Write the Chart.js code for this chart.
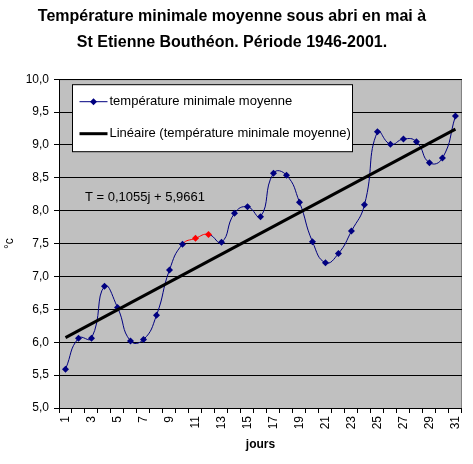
<!DOCTYPE html>
<html>
<head>
<meta charset="utf-8">
<script src="https://cdn.jsdelivr.net/npm/chart.js@4"></script>
<style>
  html, body { margin: 0; padding: 0; background: #fff; }
  #wrap { width: 473px; height: 464px; }
</style>
</head>
<body>
<div id="wrap"><canvas id="chart"></canvas></div>
<script>
// days of May
const days = ['1','2','3','4','5','6','7','8','9','10','11','12','13','14','15','16',
  '17','18','19','20','21','22','23','24','25','26','27','28','29','30','31'];
// mean minimum temperature per day (1946-2001)
const tempMin = [5.59, 6.06, 6.06, 6.85, 6.53, 6.02, 6.04, 6.41, 7.10, 7.49, 7.58,
  7.64, 7.52, 7.96, 8.06, 7.91, 8.57, 8.54, 8.13, 7.53, 7.21, 7.35, 7.69, 8.09,
  9.20, 9.01, 9.09, 9.05, 8.73, 8.80, 9.44];
// days highlighted in red
const redDays = ['11', '12'];
// linear trend end points (T = 0,1055j + 5,9661)
const trendStart = 6.07;
const trendEnd = 9.24;
const yTicks = [5, 10, 0.5]; // min, max, step

const NAVY = '#000080';
const RED = '#FF0000';
const FONT = "'Liberation Sans', Arial, sans-serif";

const trendData = days.map((d, i) => i === 0 ? trendStart : (i === days.length - 1 ? trendEnd : null));
const pointColors = days.map(d => redDays.includes(d) ? RED : NAVY);

const plotDecor = {
  id: 'plotDecor',
  beforeDraw(chart) {
    const { ctx, chartArea: a } = chart;
    ctx.save();
    ctx.fillStyle = '#C0C0C0';
    ctx.fillRect(a.left, a.top, a.right - a.left, a.bottom - a.top);
    ctx.strokeStyle = '#808080';
    ctx.lineWidth = 1;
    ctx.beginPath();
    ctx.moveTo(a.left, a.top + 0.5);
    ctx.lineTo(a.right - 0.5, a.top + 0.5);
    ctx.lineTo(a.right - 0.5, a.bottom);
    ctx.stroke();
    ctx.restore();
  },
  afterDraw(chart) {
    const { ctx, chartArea: a } = chart;
    const y = chart.scales.y;
    ctx.save();
    // legend box
    const lx = a.left + 13.5, ly = a.top + 5.5, lw = 280, lh = 67;
    ctx.fillStyle = '#fff';
    ctx.fillRect(lx, ly, lw, lh);
    ctx.strokeStyle = '#000';
    ctx.lineWidth = 1;
    ctx.strokeRect(lx, ly, lw, lh);
    ctx.font = '13px ' + FONT;
    ctx.textBaseline = 'middle';
    ctx.fillStyle = '#000';
    // row 1
    const r1 = ly + 17, r2 = ly + 49;
    ctx.strokeStyle = NAVY;
    ctx.beginPath();
    ctx.moveTo(lx + 7, r1);
    ctx.lineTo(lx + 35, r1);
    ctx.stroke();
    ctx.fillStyle = NAVY;
    ctx.beginPath();
    ctx.moveTo(lx + 21, r1 - 3.5);
    ctx.lineTo(lx + 24.5, r1);
    ctx.lineTo(lx + 21, r1 + 3.5);
    ctx.lineTo(lx + 17.5, r1);
    ctx.closePath();
    ctx.fill();
    ctx.fillStyle = '#000';
    ctx.fillText('température minimale moyenne', lx + 37, r1);
    // row 2
    ctx.strokeStyle = '#000';
    ctx.lineWidth = 3;
    ctx.beginPath();
    ctx.moveTo(lx + 7, r2);
    ctx.lineTo(lx + 35, r2);
    ctx.stroke();
    ctx.fillText('Linéaire (température minimale moyenne)', lx + 37, r2);
    // trend equation
    ctx.fillText('T = 0,1055j + 5,9661', a.left + 26, y.getPixelForValue(8.2));
    ctx.restore();
  }
};

new Chart(document.getElementById('chart'), {
  type: 'line',
  data: {
    labels: days,
    datasets: [
      {
        label: 'Linéaire (température minimale moyenne)',
        data: trendData,
        borderColor: '#000',
        borderWidth: 3,
        pointRadius: 0,
        tension: 0,
        spanGaps: true,
        order: 0
      },
      {
        label: 'température minimale moyenne',
        data: tempMin,
        borderColor: NAVY,
        borderWidth: 1,
        tension: 0.5,
        pointStyle: 'rectRot',
        pointRadius: 3.5,
        pointBackgroundColor: pointColors,
        pointBorderColor: pointColors,
        pointBorderWidth: 0,
        segment: {
          borderColor: c => (c.p0DataIndex === 9 || c.p0DataIndex === 10) ? RED : NAVY
        },
        order: 1
      }
    ]
  },
  options: {
    responsive: true,
    maintainAspectRatio: false,
    animation: false,
    devicePixelRatio: 1,
    layout: { padding: { left: 0, right: 9, top: 0, bottom: 0 } },
    plugins: {
      legend: { display: false },
      tooltip: { enabled: false },
      title: {
        display: true,
        text: ['Température minimale moyenne sous abri en mai à',
               'St Etienne Bouthéon. Période 1946-2001.'],
        color: '#000',
        font: { family: FONT, size: 16, weight: 'bold', lineHeight: 1.6 },
        padding: { top: 4, bottom: 24 }
      }
    },
    scales: {
      x: {
        offset: true,
        grid: { offset: true, drawOnChartArea: false, drawTicks: true, tickLength: 5, color: '#000' },
        border: { display: true, color: '#000' },
        ticks: {
          autoSkip: false,
          minRotation: 90,
          maxRotation: 90,
          padding: 3,
          color: '#000',
          font: { family: FONT, size: 12 },
          callback: (v, i) => i % 2 === 0 ? days[i] : ''
        },
        title: {
          display: true,
          text: 'jours',
          color: '#000',
          font: { family: FONT, size: 12, weight: 'bold' },
          padding: { top: 4, bottom: 12 }
        },
        afterFit: s => { s.height = 56; }
      },
      y: {
        min: yTicks[0],
        max: yTicks[1],
        grid: { color: '#000', lineWidth: 1, drawTicks: true, tickLength: 5 },
        border: { display: true, color: '#000' },
        ticks: {
          stepSize: yTicks[2],
          padding: 5,
          color: '#000',
          font: { family: FONT, size: 12 },
          callback: v => v.toFixed(1).replace('.', ',')
        },
        title: {
          display: true,
          text: '°c',
          color: '#000',
          font: { family: FONT, size: 12 },
          padding: { top: 2, bottom: 0 }
        },
        afterFit: s => { s.width = 59; }
      }
    }
  },
  plugins: [plotDecor]
});
</script>
</body>
</html>
